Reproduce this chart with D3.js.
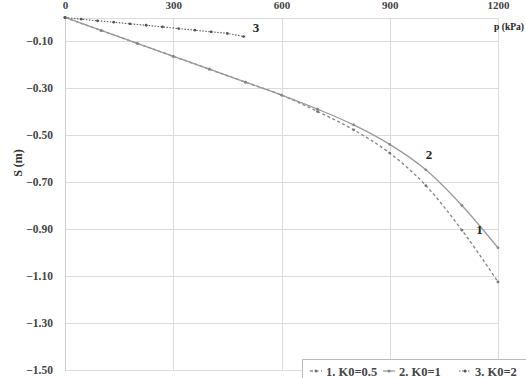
<!DOCTYPE html>
<html>
<head>
<meta charset="utf-8">
<script src="https://cdn.jsdelivr.net/npm/d3@7"></script>
<style>
  html, body { margin: 0; padding: 0; background: #fff; }
  svg { display: block; }
  text { font-family: "Liberation Serif", "Times New Roman", serif; }
</style>
</head>
<body>
<svg id="chart" width="526" height="378"></svg>
<script>
// Load p (kPa) against settlement S (m) for three K0 values
const pressure12 = [0, 100, 200, 300, 400, 500, 600, 700, 800, 900, 1000, 1100, 1200];
const settleK05 = [0, -0.055, -0.11, -0.165, -0.22, -0.275, -0.33, -0.40, -0.478, -0.577, -0.715, -0.905, -1.125];
const settleK1  = [0, -0.055, -0.11, -0.165, -0.22, -0.275, -0.33, -0.39, -0.457, -0.54, -0.648, -0.80, -0.98];
const pressure3 = [0, 45, 90, 135, 180, 225, 270, 315, 360, 405, 450, 495];
const settleK2  = [0, -0.007, -0.014, -0.020, -0.027, -0.033, -0.040, -0.047, -0.054, -0.061, -0.068, -0.081];

const xTicks = [0, 300, 600, 900, 1200];
const yTicks = [-0.10, -0.30, -0.50, -0.70, -0.90, -1.10, -1.30, -1.50];
const seriesNames = ["1. K0=0.5", "2. K0=1", "3. K0=2"];
const curveLabels = ["1", "2", "3"];

const svg = d3.select("#chart");
const x = d3.scaleLinear().domain([0, 1200]).range([65, 498]);
const y = d3.scaleLinear().domain([0, -1.5]).range([17.5, 370]);

// grid
const grid = svg.append("g").attr("stroke", "#dcdcdc").attr("stroke-width", 1);
grid.selectAll("line.h").data([0].concat(yTicks)).join("line")
  .attr("x1", x(0)).attr("x2", x(1200))
  .attr("y1", d => Math.round(y(d)) + 0.5).attr("y2", d => Math.round(y(d)) + 0.5);
grid.selectAll("line.v").data(xTicks).join("line")
  .attr("x1", d => Math.round(x(d)) + 0.5).attr("x2", d => Math.round(x(d)) + 0.5)
  .attr("y1", y(0)).attr("y2", y(-1.5));

// axes (top x, left y)
const xAxis = d3.axisTop(x).tickValues(xTicks).tickSize(0).tickPadding(9).tickFormat(d3.format("d"));
const gx = svg.append("g").attr("transform", `translate(0,${y(0)})`).call(xAxis);
gx.select(".domain").remove();
gx.selectAll("text").attr("font-size", 11).attr("font-weight", "bold").attr("fill", "#444")
  .attr("font-family", "Liberation Serif, serif");

const yAxis = d3.axisLeft(y).tickValues(yTicks).tickSize(0).tickPadding(12).tickFormat(d3.format(".2f"));
const gy = svg.append("g").attr("transform", `translate(${x(0)},0)`).call(yAxis);
gy.select(".domain").attr("stroke", "#cfcfcf");
gy.selectAll("text").attr("font-size", 11.5).attr("font-weight", "bold").attr("fill", "#444")
  .attr("font-family", "Liberation Serif, serif");

// axis titles
svg.append("text").attr("transform", "translate(22,163) rotate(-90)")
  .attr("text-anchor", "middle").attr("font-size", 12).attr("font-weight", "bold").attr("fill", "#333")
  .text("S (m)");
svg.append("text").attr("x", 494).attr("y", 30)
  .attr("font-size", 10.5).attr("font-weight", "bold").attr("fill", "#222")
  .attr("textLength", 30).attr("lengthAdjust", "spacingAndGlyphs")
  .text("p (kPa)");

// curves
const line = d3.line().x(d => x(d[0])).y(d => y(d[1])).curve(d3.curveMonotoneX);
const series = [
  { pts: d3.zip(pressure12, settleK05), color: "#8a8a8a", dash: "3,2.5", width: 1.4, mark: "#777" },
  { pts: d3.zip(pressure12, settleK1),  color: "#9a9a9a", dash: null,   width: 1.3, mark: "#888" },
  { pts: d3.zip(pressure3, settleK2),   color: "#666",    dash: "1.5,1.5", width: 1.2, mark: "#555" }
];
series.forEach(s => {
  svg.append("path").datum(s.pts).attr("d", line).attr("fill", "none")
    .attr("stroke", s.color).attr("stroke-width", s.width)
    .attr("stroke-dasharray", s.dash);
  svg.append("g").selectAll("circle").data(s.pts).join("circle")
    .attr("cx", d => x(d[0])).attr("cy", d => y(d[1])).attr("r", 1.4).attr("fill", s.mark);
});

// curve numbers
const labelPos = [[1140, -0.92, 0], [1000, -0.60, 1], [520, -0.06, 2]];
svg.append("g").selectAll("text").data(labelPos).join("text")
  .attr("x", d => x(d[0])).attr("y", d => y(d[1]))
  .attr("font-size", 13).attr("font-weight", "bold").attr("fill", "#222")
  .text(d => curveLabels[d[2]]);

// legend
const lg = svg.append("g");
lg.append("rect").attr("x", 302.5).attr("y", 359.5).attr("width", 240).attr("height", 24)
  .attr("fill", "#fff").attr("stroke", "#bbb");
const legX = [310, 383, 459];
seriesNames.forEach((name, i) => {
  const s = series[i];
  const ly = 371;
  lg.append("line").attr("x1", legX[i]).attr("x2", legX[i] + 12).attr("y1", ly).attr("y2", ly)
    .attr("stroke", s.color).attr("stroke-width", s.width).attr("stroke-dasharray", s.dash);
  lg.append("circle").attr("cx", legX[i] + 6).attr("cy", ly).attr("r", 1.5).attr("fill", s.mark);
  lg.append("text").attr("x", legX[i] + 16).attr("y", ly + 4.5)
    .attr("font-size", 12.5).attr("font-weight", "bold").attr("fill", "#444").text(name);
});
</script>
</body>
</html>
